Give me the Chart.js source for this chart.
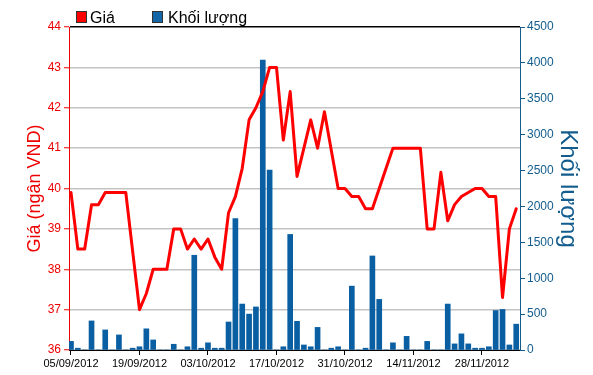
<!DOCTYPE html>
<html><head><meta charset="utf-8">
<script src="https://cdn.jsdelivr.net/npm/chart.js@4/dist/chart.umd.min.js"></script>
<style>html,body{margin:0;padding:0;background:#fff;} #wrap{width:593px;height:375px;position:relative}</style>
</head><body><div id="wrap"><canvas id="c" width="593" height="375"></canvas></div>
<script>
const dates = [
 '05/09/2012','06/09/2012','07/09/2012','10/09/2012','11/09/2012','12/09/2012','13/09/2012','14/09/2012','17/09/2012','18/09/2012',
 '19/09/2012','20/09/2012','21/09/2012','24/09/2012','25/09/2012','26/09/2012','27/09/2012','28/09/2012','01/10/2012','02/10/2012',
 '03/10/2012','04/10/2012','05/10/2012','08/10/2012','09/10/2012','10/10/2012','11/10/2012','12/10/2012','15/10/2012','16/10/2012',
 '17/10/2012','18/10/2012','19/10/2012','22/10/2012','23/10/2012','24/10/2012','25/10/2012','26/10/2012','29/10/2012','30/10/2012',
 '31/10/2012','01/11/2012','02/11/2012','05/11/2012','06/11/2012','07/11/2012','08/11/2012','09/11/2012','12/11/2012','13/11/2012',
 '14/11/2012','15/11/2012','16/11/2012','19/11/2012','20/11/2012','21/11/2012','22/11/2012','23/11/2012','26/11/2012','27/11/2012',
 '28/11/2012','29/11/2012','30/11/2012','03/12/2012','04/12/2012','05/12/2012'
];
const tickLabels = ['05/09/2012','19/09/2012','03/10/2012','17/10/2012','31/10/2012','14/11/2012','28/11/2012'];
const price = [
 39.9,38.5,38.5,39.6,39.6,39.9,39.9,39.9,39.9,38.45,
 37.0,37.4,38.0,38.0,38.0,39.0,39.0,38.5,38.75,38.5,
 38.75,38.3,38.0,39.4,39.8,40.5,41.7,42.0,42.4,43.0,
 43.0,41.2,42.4,40.3,41.0,41.7,41.0,41.9,40.95,40.0,
 40.0,39.8,39.8,39.5,39.5,40.0,40.5,41.0,41.0,41.0,
 41.0,41.0,39.0,39.0,40.4,39.2,39.6,39.8,39.9,40.0,
 40.0,39.8,39.8,37.3,39.0,39.5
];
const volume = [
 120,25,0,405,0,280,0,210,0,25,
 45,295,140,0,0,80,0,45,1320,25,
 100,25,25,390,1830,640,500,600,4040,2505,
 0,45,1610,400,70,45,315,0,25,45,
 0,890,0,25,1310,705,0,100,0,190,
 0,0,120,0,0,640,85,225,85,25,
 25,45,550,565,70,360
];
const seriesNames = ['Giá','Khối lượng'];
const leftTitle = 'Giá (ngân VND)';
const rightTitle = 'Khối lượng';

const RED = '#ee0000';
const BLUE = '#135c8e';
const BAR = '#0a5fa3';
const FAMILY = '"Liberation Sans", Arial, sans-serif';
Chart.defaults.font.family = FAMILY;

const legendPlugin = {
  id: 'legendBoxes',
  afterDraw(chart) {
    const c = chart.ctx;
    c.save();
    c.font = '16px ' + FAMILY;
    c.textBaseline = 'alphabetic';
    const items = [
      {text: seriesNames[0], color: '#ff0000', bx: 76, tx: 90},
      {text: seriesNames[1], color: '#1566a6', bx: 152, tx: 168}
    ];
    items.forEach(it => {
      c.fillStyle = it.color;
      c.fillRect(it.bx, 11, 10, 11);
      c.strokeStyle = '#333';
      c.lineWidth = 1;
      c.strokeRect(it.bx + 0.5, 11.5, 10, 11);
      c.fillStyle = '#000';
      c.fillText(it.text, it.tx, 23);
    });
    c.restore();
  }
};

new Chart(document.getElementById('c'), {
  data: {
    datasets: [
      {type: 'line', label: seriesNames[0], data: price.map((p, i) => ({x: i, y: p})), yAxisID: 'y',
       borderColor: '#ff0000', borderWidth: 3, pointRadius: 0, tension: 0, order: 0,
       borderJoinStyle: 'round', borderCapStyle: 'round'},
      {type: 'bar', label: seriesNames[1], data: volume.map((v, i) => ({x: i, y: v})), yAxisID: 'y1',
       backgroundColor: BAR, barThickness: 5, order: 1}
    ]
  },
  options: {
    responsive: false, animation: false,
    layout: {padding: {top: 27, left: 0, right: 0, bottom: 0}},
    plugins: {legend: {display: false}, tooltip: {enabled: false}},
    scales: {
      x: {
        type: 'linear', min: -0.29, max: 65.55, offset: false,
        afterBuildTicks: s => { s.ticks = tickLabels.map(l => ({value: dates.indexOf(l)})); },
        ticks: {callback: v => dates[v], font: {size: 11}, color: '#000', padding: 2, maxRotation: 0, autoSkip: false},
        grid: {drawOnChartArea: false, offset: false, tickLength: 5, tickColor: '#000'},
        border: {color: '#000', width: 1},
        afterFit: s => { s.height = 25; }
      },
      y: {
        position: 'left', min: 36, max: 44,
        ticks: {stepSize: 1, color: RED, font: {size: 12}, padding: 3},
        grid: {color: c => c.tick && c.tick.value === 44 ? '#000' : '#c4c4c4', lineWidth: 1.5, tickColor: RED, tickLength: 5, tickWidth: 1},
        border: {color: RED, width: 1},
        title: {display: true, text: leftTitle, color: RED, font: {size: 18}, padding: {top: 24, bottom: 0}},
        afterFit: s => { s.width = 69; }
      },
      y1: {
        position: 'right', min: 0, max: 4500,
        ticks: {stepSize: 500, color: BLUE, font: {size: 12}, padding: 2, callback: v => String(v)},
        grid: {drawOnChartArea: false, tickColor: BLUE, tickLength: 5},
        border: {color: BLUE, width: 1},
        title: {display: true, text: rightTitle, color: BLUE, font: {size: 24}, padding: {top: 11, bottom: 0}},
        afterFit: s => { s.width = 73; }
      }
    }
  },
  plugins: [legendPlugin]
});
</script></body></html>
